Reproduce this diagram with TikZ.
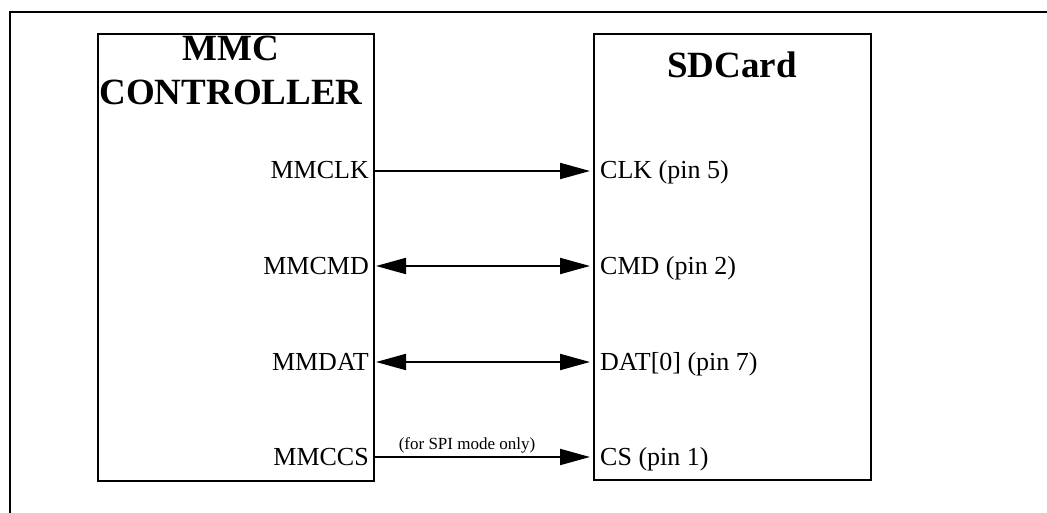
\documentclass[tikz,border=0pt]{standalone}
\usepackage{fontspec}
\setmainfont{Liberation Serif}
\usetikzlibrary{arrows.meta}
\tikzset{
  blockbox/.style={draw, line width=2pt, rectangle, inner sep=0pt},
  titletext/.style={font=\bfseries\fontsize{37}{44}\selectfont, inner sep=0pt},
  pintext/.style={font=\fontsize{26}{30}\selectfont, inner sep=0pt},
  notetext/.style={font=\fontsize{17}{20}\selectfont, inner sep=0pt},
  sig/.style={line width=2pt, -{Triangle[length=30pt,width=16pt]}, shorten >=3pt},
  bisig/.style={line width=2pt, {Triangle[length=30pt,width=16pt]}-{Triangle[length=30pt,width=16pt]}, shorten >=3pt, shorten <=1pt},
}
\begin{document}
\begin{tikzpicture}[x=1pt,y=-1pt]
\useasboundingbox (0,0) rectangle (1047,513);
% frame
\draw[line width=2pt] (10,513) -- (10,12) -- (1047,12);
% blocks
\node[blockbox, minimum width=276pt, minimum height=446pt] (ctrl) at (236,257.5) {};
\node[blockbox, minimum width=277pt, minimum height=446pt] (card) at (732.5,257) {};
% titles
\node[titletext, anchor=base] (t1) at (231,61) {MMC};
\node[titletext, anchor=base] (t2) at (231,105) {CONTROLLER};
\node[titletext, anchor=base] (t3) at (732,78) {SDCard};
% left labels
\node[pintext, anchor=base east] (lclk) at (369,179) {MMCLK};
\node[pintext, anchor=base east] (lcmd) at (369,274) {MMCMD};
\node[pintext, anchor=base east] (ldat) at (369,370) {MMDAT};
\node[pintext, anchor=base east] (lcs) at (369,465) {MMCCS};
% right labels
\node[pintext, anchor=base west] (rclk) at (600,179) {CLK (pin 5)};
\node[pintext, anchor=base west] (rcmd) at (600,274) {CMD (pin 2)};
\node[pintext, anchor=base west] (rdat) at (600,370) {DAT[0] (pin 7)};
\node[pintext, anchor=base west] (rcs) at (600,465) {CS (pin 1)};
% coordinates for signal lines
\coordinate (yclk) at (0,171);
\coordinate (ycmd) at (0,266);
\coordinate (ydat) at (0,362);
\coordinate (ycs) at (0,457);
% connectors
\draw[sig] (ctrl.east |- yclk) -- (card.west |- yclk);
\draw[bisig] (ctrl.east |- ycmd) -- (card.west |- ycmd);
\draw[bisig] (ctrl.east |- ydat) -- (card.west |- ydat);
\draw[sig] (ctrl.east |- ycs) -- (card.west |- ycs);
% note
\node[notetext, anchor=base] (note) at (467,449) {(for SPI mode only)};
\end{tikzpicture}
\end{document}
